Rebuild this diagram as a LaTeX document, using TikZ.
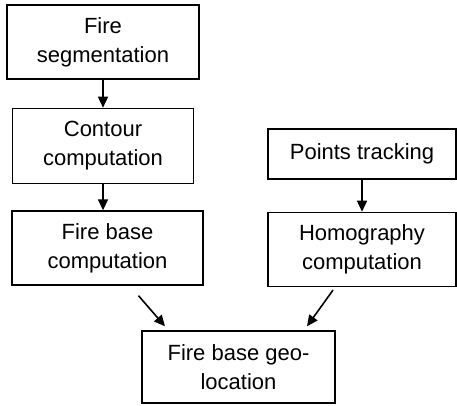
\documentclass[tikz,border=0pt]{standalone}
\usepackage{fontspec}
\setmainfont{Liberation Sans}
\usepackage{tikz}
\usetikzlibrary{arrows.meta, positioning}

\begin{document}
\begin{tikzpicture}[
    x=1pt, y=1pt,
    box/.style={draw, line width=1.4pt, rectangle, align=center, inner sep=2pt,
        font=\fontsize{22}{29}\selectfont},
    arr/.style={-{Triangle[width=10pt,length=11pt]}, line width=1.6pt},
    node distance=28pt
]
\useasboundingbox (0,0) rectangle (457,-406);

\node[box, minimum width=192pt, minimum height=74pt] (seg) at (103,-42) {Fire\\segmentation};
\node[box, minimum width=181pt, minimum height=75pt, below=of seg] (cont) {Contour\\computation};
\node[box, minimum width=191pt, minimum height=74pt] (fbc) at (107.5,-248) {Fire base\\computation};
\node[box, minimum width=188pt, minimum height=50pt] (pts) at (362,-154) {Points tracking};
\node[box, minimum width=188pt, minimum height=74pt, below=32pt of pts] (hom) {Homography\\computation};
\node[box, minimum width=193pt, minimum height=72pt] (geo) at (238.5,-367) {Fire base geo-\\location};

\draw[arr] (seg) -- (cont);
\draw[arr] (cont.south) -- (cont.south |- fbc.north);
\draw[arr] (pts) -- (hom);
\draw[arr] ([xshift=31pt,yshift=-10pt]fbc.south) -- ([xshift=-73.5pt,yshift=4pt]geo.north);
\draw[arr] ([xshift=-29pt,yshift=-3pt]hom.south) -- ([xshift=68.5pt,yshift=4pt]geo.north);
\end{tikzpicture}
\end{document}
